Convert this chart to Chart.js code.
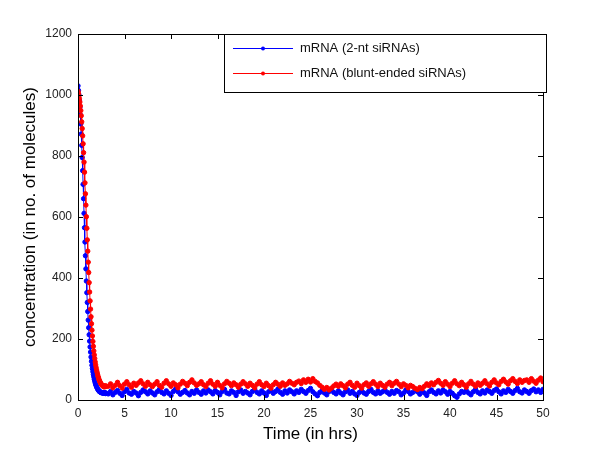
<!DOCTYPE html>
<html>
<head>
<meta charset="utf-8">
<script src="https://cdn.jsdelivr.net/npm/chart.js@4/dist/chart.umd.min.js"></script>
<style>
  html, body { margin: 0; padding: 0; background: #fff; }
  #wrap { width: 600px; height: 450px; }
</style>
</head>
<body>
<div id="wrap"><canvas id="mrnaChart" width="600" height="450"></canvas></div>
<script>
// time points (hrs): fine steps during the drop, coarser on the plateau
const decayHours = [
  0, 0.05, 0.1, 0.15, 0.2, 0.25, 0.3, 0.35, 0.4, 0.45,
  0.5, 0.55, 0.6, 0.65, 0.7, 0.75, 0.8, 0.85, 0.9, 0.95,
  1, 1.05, 1.1, 1.15, 1.2, 1.25, 1.3, 1.35, 1.4, 1.45,
  1.5, 1.55, 1.6, 1.65, 1.7, 1.75, 1.8, 1.85, 1.9, 1.95,
  2, 2.05, 2.1, 2.15, 2.2, 2.25, 2.3, 2.35, 2.4, 2.45,
  2.5, 2.55, 2.6, 2.65, 2.7, 2.75, 2.8, 2.85, 2.9, 2.95, 3
];
const plateauHours = [
  3.25, 3.5, 3.75, 4, 4.25, 4.5, 4.75, 5, 5.25, 5.5, 5.75, 6, 6.25, 6.5, 6.75, 7, 7.25, 7.5, 7.75, 8,
  8.25, 8.5, 8.75, 9, 9.25, 9.5, 9.75, 10, 10.25, 10.5, 10.75, 11, 11.25, 11.5, 11.75, 12, 12.25, 12.5, 12.75, 13,
  13.25, 13.5, 13.75, 14, 14.25, 14.5, 14.75, 15, 15.25, 15.5, 15.75, 16, 16.25, 16.5, 16.75, 17, 17.25, 17.5, 17.75, 18,
  18.25, 18.5, 18.75, 19, 19.25, 19.5, 19.75, 20, 20.25, 20.5, 20.75, 21, 21.25, 21.5, 21.75, 22, 22.25, 22.5, 22.75, 23,
  23.25, 23.5, 23.75, 24, 24.25, 24.5, 24.75, 25, 25.25, 25.5, 25.75, 26, 26.25, 26.5, 26.75, 27, 27.25, 27.5, 27.75, 28,
  28.25, 28.5, 28.75, 29, 29.25, 29.5, 29.75, 30, 30.25, 30.5, 30.75, 31, 31.25, 31.5, 31.75, 32, 32.25, 32.5, 32.75, 33,
  33.25, 33.5, 33.75, 34, 34.25, 34.5, 34.75, 35, 35.25, 35.5, 35.75, 36, 36.25, 36.5, 36.75, 37, 37.25, 37.5, 37.75, 38,
  38.25, 38.5, 38.75, 39, 39.25, 39.5, 39.75, 40, 40.25, 40.5, 40.75, 41, 41.25, 41.5, 41.75, 42, 42.25, 42.5, 42.75, 43,
  43.25, 43.5, 43.75, 44, 44.25, 44.5, 44.75, 45, 45.25, 45.5, 45.75, 46, 46.25, 46.5, 46.75, 47, 47.25, 47.5, 47.75, 48,
  48.25, 48.5, 48.75, 49, 49.25, 49.5, 49.75, 50
];

// mRNA (2-nt siRNAs)
const blueDecay = [
  1030, 1015, 1000, 982, 960, 935, 905, 872, 835, 795,
  752, 707, 660, 612, 565, 518, 473, 430, 390, 352,
  320, 290, 262, 237, 214, 193, 174, 157, 141, 127,
  114, 103, 93, 84, 76, 68, 62, 56, 51, 47,
  43, 40, 37, 34, 32, 30, 28, 27, 26, 25,
  24, 25, 23, 24, 22, 23, 25, 22, 24, 21, 23
];
const bluePlateau = [
  20, 28, 17, 25, 31, 22, 15, 27, 35, 23, 19, 28, 23, 14, 25, 33, 27, 20, 30, 23,
  17, 27, 35, 25, 20, 30, 22, 15, 28, 36, 27, 19, 25, 31, 23, 17, 28, 22, 33, 25,
  19, 30, 23, 33, 27, 20, 31, 25, 17, 28, 35, 23, 20, 30, 25, 15, 27, 33, 22, 28,
  23, 17, 28, 35, 25, 20, 30, 23, 15, 27, 31, 22, 28, 36, 25, 19, 30, 23, 33, 27,
  20, 30, 25, 35, 28, 22, 31, 38, 27, 20, 14, 25, 31, 23, 17, 28, 35, 25, 20, 30,
  23, 17, 27, 33, 22, 28, 20, 15, 25, 31, 23, 19, 28, 35, 25, 20, 30, 22, 27, 33,
  25, 19, 28, 22, 31, 27, 17, 23, 33, 28, 20, 25, 35, 27, 19, 30, 23, 15, 27, 33,
  25, 20, 30, 23, 33, 27, 19, 28, 22, 14, 9, 20, 28, 25, 31, 23, 17, 27, 35, 25,
  20, 30, 23, 33, 28, 22, 31, 36, 27, 20, 30, 25, 35, 28, 22, 31, 38, 27, 23, 33,
  28, 22, 31, 36, 27, 33, 25, 35
];

// mRNA (blunt-ended siRNAs)
const redDecay = [
  1012, 1005, 997, 988, 977, 964, 949, 932, 912, 890,
  866, 840, 811, 780, 747, 712, 676, 639, 601, 563,
  525, 488, 452, 418, 385, 354, 325, 298, 273, 250,
  229, 210, 192, 176, 161, 148, 136, 125, 115, 106,
  98, 91, 84, 78, 73, 68, 64, 60, 57, 54,
  52, 50, 48, 47, 45, 44, 46, 43, 45, 47, 44
];
const redPlateau = [
  45, 53, 40, 48, 58, 47, 39, 52, 60, 50, 42, 55, 48, 56, 63, 53, 45, 58, 50, 44,
  52, 60, 48, 42, 55, 63, 53, 45, 56, 50, 40, 52, 61, 55, 47, 58, 66, 56, 48, 53,
  60, 50, 44, 55, 63, 52, 45, 58, 48, 40, 53, 61, 55, 47, 56, 50, 42, 52, 60, 53,
  45, 55, 48, 40, 52, 60, 50, 44, 55, 47, 39, 50, 58, 52, 45, 56, 48, 53, 61, 55,
  50, 58, 62, 54, 66, 58, 68, 59, 70, 61, 56, 48, 42, 35, 41, 33, 39, 46, 52, 45,
  53, 47, 40, 52, 58, 48, 42, 55, 47, 39, 50, 56, 45, 53, 60, 52, 44, 55, 48, 42,
  52, 58, 47, 55, 61, 52, 44, 53, 48, 40, 48, 44, 38, 34, 41, 37, 45, 53, 47, 56,
  50, 58, 64, 55, 48, 60, 52, 44, 55, 63, 53, 47, 58, 50, 42, 53, 61, 52, 45, 56,
  48, 55, 63, 53, 46, 58, 66, 56, 50, 61, 68, 59, 52, 63, 70, 61, 54, 66, 58, 64,
  66, 58, 70, 62, 55, 65, 72, 60
];

const xTicks = [0, 5, 10, 15, 20, 25, 30, 35, 40, 45, 50];
const yTicks = [0, 200, 400, 600, 800, 1000, 1200];

const hours = decayHours.concat(plateauHours);
const toPoints = vals => vals.map((v, i) => ({ x: hours[i], y: v }));

const FONT = '"Liberation Sans", Arial, sans-serif';

// MATLAB-ish box: frame, inward ticks on all four sides, boxed legend
const matlabBox = {
  id: 'matlabBox',
  afterDatasetsDraw(chart) {
    const { ctx, chartArea: a, scales } = chart;
    ctx.save();
    ctx.strokeStyle = '#000';
    ctx.lineWidth = 1;
    ctx.beginPath();
    xTicks.forEach(t => {
      const px = Math.round(scales.x.getPixelForValue(t)) + 0.5;
      ctx.moveTo(px, a.bottom); ctx.lineTo(px, a.bottom - 5);
      ctx.moveTo(px, a.top); ctx.lineTo(px, a.top + 5);
    });
    yTicks.forEach(t => {
      const py = Math.round(scales.y.getPixelForValue(t)) + 0.5;
      ctx.moveTo(a.left, py); ctx.lineTo(a.left + 5, py);
      ctx.moveTo(a.right, py); ctx.lineTo(a.right - 5, py);
    });
    ctx.stroke();
    ctx.strokeRect(Math.round(a.left) + 0.5, Math.round(a.top) + 0.5,
      Math.round(a.right - a.left), Math.round(a.bottom - a.top));

    // legend box
    const bx = a.right - 319, by = a.top, bw = 322, bh = 58;
    ctx.fillStyle = '#fff';
    ctx.fillRect(bx, by, bw, bh);
    ctx.strokeRect(bx + 0.5, by + 0.5, bw, bh);
    ctx.font = '13px ' + FONT;
    ctx.textBaseline = 'middle';
    chart.data.datasets.forEach((ds, i) => {
      const y = by + 14 + i * 25;
      ctx.strokeStyle = ds.borderColor;
      ctx.beginPath();
      ctx.moveTo(bx + 9, y + 0.5); ctx.lineTo(bx + 69, y + 0.5);
      ctx.stroke();
      ctx.fillStyle = ds.borderColor;
      ctx.beginPath();
      ctx.arc(bx + 39, y + 0.5, 2, 0, Math.PI * 2);
      ctx.fill();
      ctx.fillStyle = '#111';
      ctx.fillText(ds.label, bx + 76, y);
    });
    ctx.restore();
  }
};

new Chart(document.getElementById('mrnaChart'), {
  type: 'line',
  data: {
    datasets: [
      {
        label: 'mRNA (2-nt siRNAs)',
        data: toPoints(blueDecay.concat(bluePlateau)),
        borderColor: '#0000ff',
        backgroundColor: '#0000ff',
        borderWidth: 1,
        pointRadius: 2.2,
        pointBorderWidth: 1,
        order: 1
      },
      {
        label: 'mRNA (blunt-ended siRNAs)',
        data: toPoints(redDecay.concat(redPlateau)),
        borderColor: '#ff0000',
        backgroundColor: '#ff0000',
        borderWidth: 1,
        pointRadius: 2.2,
        pointBorderWidth: 1,
        order: 0
      }
    ]
  },
  options: {
    responsive: false,
    animation: false,
    layout: { padding: { top: 34, right: 57, left: 0, bottom: 0 } },
    plugins: { legend: { display: false }, tooltip: { enabled: false } },
    scales: {
      x: {
        type: 'linear', min: 0, max: 50,
        afterFit: s => { s.height = 50; },
        afterBuildTicks: s => { s.ticks = xTicks.map(v => ({ value: v })); },
        grid: { display: false, drawTicks: false },
        border: { display: false },
        ticks: { color: '#222', font: { family: FONT, size: 12 }, padding: 6, callback: v => String(v) },
        title: { display: true, text: 'Time (in hrs)', color: '#000', font: { family: FONT, size: 17 }, padding: { top: 0, bottom: 5 } }
      },
      y: {
        min: 0, max: 1200,
        afterFit: s => { s.width = 78; },
        afterBuildTicks: s => { s.ticks = yTicks.map(v => ({ value: v })); },
        grid: { display: false, drawTicks: false },
        border: { display: false },
        ticks: { color: '#222', font: { family: FONT, size: 12 }, padding: 6, callback: v => String(v) },
        title: { display: true, text: 'concentration (in no. of molecules)', color: '#000', font: { family: FONT, size: 17 }, padding: { top: 20, bottom: 0 } }
      }
    }
  },
  plugins: [matlabBox]
});
</script>
</body>
</html>
